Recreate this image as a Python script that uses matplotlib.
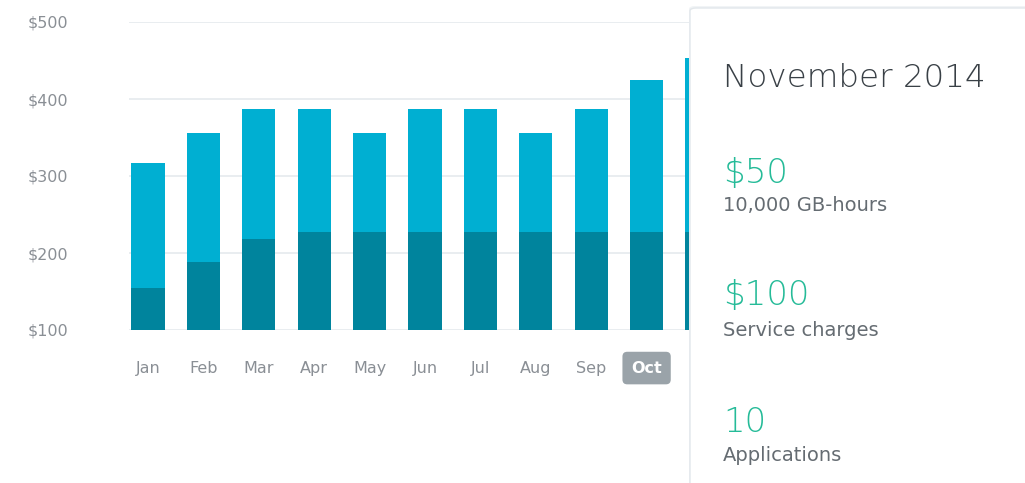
import matplotlib.pyplot as plt
from matplotlib.patches import FancyBboxPatch

# Monthly costs (stacked): base charges + usage on top
months = ["Jan", "Feb", "Mar", "Apr", "May", "Jun", "Jul", "Aug", "Sep", "Oct", "Nov"]
base = [155, 188, 218, 227, 227, 227, 227, 227, 227, 227, 227]
total = [317, 356, 387, 387, 356, 387, 387, 356, 387, 425, 453]
yticks = [100, 200, 300, 400, 500]
ytick_labels = ["$100", "$200", "$300", "$400", "$500"]

panel_title = "November 2014"
panel_values = ["$50", "$100", "10"]
panel_captions = ["10,000 GB-hours", "Service charges", "Applications"]
selected = "Oct"

light = "#00afd2"
dark = "#00849d"
grid_c = "#e5eaee"
tick_c = "#8a8f95"
green = "#25bb98"
title_c = "#394046"
caption_c = "#656c72"

W, H = 1025, 483
fig = plt.figure(figsize=(W / 100, H / 100), dpi=100)
ax = fig.add_axes([129 / W, 153 / H, 896 / W, 308 / H])

step = 55.4  # px per month
x0 = 148     # px of the first bar centre
x = list(range(len(months)))
upper = [t - b for t, b in zip(total, base)]
ax.bar(x, [b - 100 for b in base], width=0.6, bottom=100, color=dark, zorder=2)
ax.bar(x, upper, width=0.6, bottom=base, color=light, zorder=2)

ax.set_xlim((129 - x0) / step, (1025 - x0) / step)
ax.set_ylim(100, 500)

for s in ax.spines.values():
    s.set_visible(False)
ax.set_yticks(yticks)
ax.set_yticklabels(ytick_labels)
ax.yaxis.grid(True, color=grid_c, linewidth=1.2, zorder=0)
ax.set_axisbelow(True)
ax.tick_params(axis="y", length=0, pad=44, labelsize=11.5, labelcolor=tick_c)
# the last month's label sits under the detail panel
ax.set_xticks(x[:-1])
ax.set_xticklabels(months[:-1])
ax.tick_params(axis="x", length=0, pad=22, labelsize=11.5, labelcolor=tick_c)
for lbl in ax.get_xticklabels():
    if lbl.get_text() == selected:
        lbl.set_color("white")
        lbl.set_fontweight("bold")
        lbl.set_bbox(dict(boxstyle="round,pad=0.55,rounding_size=0.3",
                          fc="#9aa3a9", ec="none"))

# detail panel on the right
shadow = FancyBboxPatch((689 / W, -0.1), 0.5, 1.0 - 6 / H + 0.1,
                        boxstyle="round,pad=0,rounding_size=0.006",
                        transform=fig.transFigure, fc="#f1f4f6", ec="none",
                        zorder=4)
fig.patches.append(shadow)
panel = FancyBboxPatch((690 / W, -0.1), 0.5, 1.0 - 8 / H + 0.1,
                       boxstyle="round,pad=0,rounding_size=0.006",
                       transform=fig.transFigure, fc="white", ec="#e2e7eb",
                       linewidth=1.0, zorder=5)
fig.patches.append(panel)

tx = 723 / W
big = dict(fontfamily="DejaVu Sans", fontweight=200, va="baseline", zorder=6)
fig.text(tx, 1 - 87 / H, panel_title, fontsize=23.4, color=title_c, **big)
val_base = [183, 305, 432]
cap_base = [211, 336, 461]
for v, c, yb, yc in zip(panel_values, panel_captions, val_base, cap_base):
    fig.text(tx, 1 - yb / H, v, fontsize=24.5, color=green, **big)
    fig.text(tx, 1 - yc / H, c, fontsize=14, color=caption_c,
             fontfamily="DejaVu Sans", va="baseline", zorder=6)

fig.savefig("out.png", dpi=100)
